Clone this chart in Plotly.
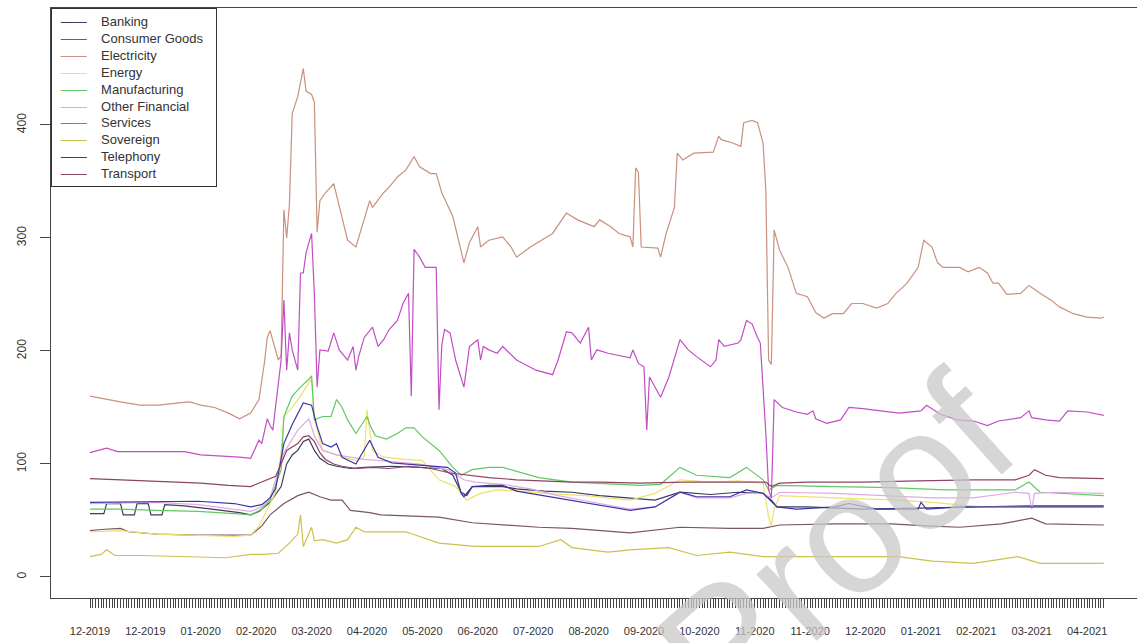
import plotly.graph_objects as go

# ---------------- data ----------------
n_days = 367
label_step = 20
day_labels = ["12-2019", "12-2019", "01-2020", "02-2020", "03-2020", "04-2020",
              "05-2020", "06-2020", "07-2020", "08-2020", "09-2020", "10-2020",
              "11-2020", "11-2020", "12-2020", "01-2021", "02-2021", "03-2021",
              "04-2021"]
y_ticks = [0, 100, 200, 300, 400]

# (trading-day index, value) pairs
banking = [(1,56),(6,56),(7,65),(12,65),(13,55),(17,55),(18,65),(22,65),(23,55),(27,55),(28,64),
           (35,63),(45,60),(55,57),(59,55),(62,58),(66,66),(70,80),(72,100),(74,108),(76,112),
           (78,120),(80,122),(82,112),(84,105),(87,100),(90,98),(95,96),(100,97),(110,98),
           (120,97),(128,96),(132,90),(135,75),(137,72),(139,80),(145,80),(150,80),(155,78),
           (165,76),(175,75),(185,72),(195,70),(205,68),(214,75),(225,73),(235,75),(244,74),
           (247,68),(249,62),(260,62),(280,60),(300,61),(320,62),(340,63),(367,63)]
consumer_goods = [(1,41),(5,42),(12,43),(15,40),(25,38),(40,37),(53,37),(59,37),(63,45),(66,55),
                  (71,65),(76,72),(80,75),(84,71),(88,68),(92,68),(95,59),(102,57),(106,55),
                  (115,54),(127,53),(139,48),(150,46),(163,44),(175,43),(190,40),(196,39),
                  (214,44),(232,43),(244,43),(250,46),(270,47),(290,47),(305,45),(315,44),
                  (330,47),(341,52),(346,47),(367,46)]
electricity = [(1,160),(5,158),(12,155),(19,152),(26,152),(33,154),(37,155),(41,152),(46,150),
               (51,145),(55,140),(59,145),(62,157),(64,190),(65,212),(66,218),(68,200),(69,192),
               (70,196),(71,325),(72,300),(73,330),(74,410),(76,425),(78,450),(79,430),(81,427),
               (82,420),(83,305),(84,333),(86,340),(89,348),(92,318),(94,298),(97,292),(100,316),
               (102,333),(103,327),(107,340),(109,345),(112,354),(115,360),(118,372),(120,363),
               (124,357),(126,357),(128,340),(132,319),(136,278),(138,296),(141,310),(142,292),
               (145,298),(150,301),(153,292),(155,283),(160,292),(168,304),(173,322),(177,316),
               (180,313),(183,310),(185,316),(189,310),(192,304),(196,301),(197,292),(198,362),
               (199,358),(200,292),(206,291),(207,283),(209,304),(212,327),(213,375),(215,369),
               (219,375),(226,376),(228,390),(229,387),(233,384),(236,381),(237,402),(240,404),
               (242,402),(244,384),(245,342),(246,192),(247,188),(248,307),(250,289),(253,274),
               (256,251),(260,248),(263,234),(266,229),(269,233),(273,233),(276,242),(280,242),
               (285,238),(289,242),(292,251),(296,260),(300,274),(302,298),(305,292),(307,278),
               (309,274),(315,274),(318,270),(322,274),(325,269),(327,260),(329,260),(332,250),
               (337,251),(340,258),(344,251),(348,245),(351,239),(356,233),(361,230),(366,229),
               (367,230)]
energy = [(1,40),(12,41),(25,38),(40,37),(53,36),(59,37),(62,45),(65,60),(68,75),(70,110),
          (71,142),(74,150),(77,160),(80,172),(81,175),(82,140),(85,112),(90,108),(97,103),
          (100,106),(101,148),(103,112),(107,106),(115,104),(121,103),(127,86),(133,80),
          (137,68),(142,74),(148,77),(157,76),(165,74),(180,72),(196,68),(205,74),(214,86),
          (225,84),(235,85),(244,83),(246,53),(247,45),(248,60),(250,72),(270,70),(293,68),
          (305,66),(323,62),(367,62)]
manufacturing = [(1,60),(12,60),(25,59),(40,58),(53,56),(59,55),(63,60),(66,68),(70,95),(71,142),
                 (74,160),(77,168),(80,175),(81,178),(82,139),(85,142),(88,142),(90,157),(92,150),
                 (94,139),(97,127),(101,142),(102,135),(104,125),(108,122),(112,127),(115,132),
                 (118,132),(121,124),(127,112),(132,97),(135,90),(139,95),(145,97),(150,97),
                 (156,93),(163,88),(175,84),(190,82),(200,81),(207,82),(214,97),(220,90),(232,88),
                 (238,97),(244,86),(246,77),(249,81),(270,80),(290,79),(310,77),(335,77),(340,84),
                 (344,75),(367,72)]
other_financial = [(1,65),(25,66),(40,64),(53,60),(59,58),(63,62),(66,70),(71,110),(76,130),(80,140),
                   (82,125),(85,112),(90,108),(100,104),(110,102),(120,100),(130,95),(136,86),
                   (140,84),(150,82),(160,78),(170,72),(185,65),(196,60),(205,62),(214,75),(220,70),
                   (232,70),(238,74),(244,74),(247,70),(250,75),(270,74),(290,72),(305,70),(320,70),
                   (335,75),(340,74),(341,60),(342,74),(350,75),(367,74)]
services = [(1,110),(7,114),(11,111),(26,111),(35,111),(41,108),(51,107),(55,106),(59,105),(62,121),
            (63,118),(65,140),(66,134),(67,130),(70,192),(71,245),(72,183),(73,216),(74,201),(76,183),
            (77,269),(78,269),(79,287),(81,304),(82,251),(83,168),(84,201),(87,200),(89,216),(91,201),
            (94,192),(96,204),(97,183),(98,195),(100,212),(103,221),(105,204),(107,210),(109,219),
            (112,227),(114,242),(116,251),(117,160),(118,290),(120,283),(122,274),(126,274),(127,148),
            (128,205),(129,219),(131,216),(133,192),(136,168),(138,204),(141,210),(142,192),(143,204),
            (145,201),(148,198),(150,204),(155,192),(160,186),(162,183),(168,179),(170,192),(173,217),
            (175,216),(178,207),(181,221),(182,192),(184,201),(188,198),(196,194),(197,201),(199,189),
            (201,186),(202,130),(203,177),(207,159),(210,177),(214,210),(217,201),(220,195),(225,186),
            (227,192),(228,210),(230,204),(235,207),(236,210),(238,227),(240,224),(242,212),(243,207),
            (245,127),(246,77),(247,70),(248,157),(251,150),(256,146),(260,144),(262,147),(263,140),
            (267,136),(272,139),(275,150),(280,149),(286,147),(293,145),(301,147),(303,152),(308,144),
            (314,139),(320,138),(325,134),(329,138),(337,141),(340,147),(341,141),(346,139),(351,138),
            (354,147),(361,146),(367,143)]
sovereign = [(1,18),(5,20),(7,24),(10,19),(20,19),(35,18),(50,17),(59,20),(64,20),(69,21),(73,30),
             (76,38),(77,55),(78,27),(81,44),(82,32),(85,33),(90,30),(94,33),(97,44),(100,40),
             (110,40),(115,40),(127,30),(140,27),(155,27),(163,27),(171,33),(175,26),(188,22),
             (196,24),(210,26),(220,19),(232,22),(244,18),(270,18),(293,18),(305,14),(320,12),
             (336,18),(344,12),(367,12)]
telephony = [(1,66),(25,67),(40,67),(53,65),(59,62),(63,64),(66,70),(68,78),(71,118),(74,135),
             (78,154),(81,152),(83,133),(85,118),(88,115),(90,118),(92,106),(97,100),(102,121),
             (105,106),(110,101),(120,99),(130,97),(133,92),(135,74),(136,71),(139,80),(145,81),
             (150,81),(155,76),(165,72),(175,68),(185,64),(196,59),(205,62),(214,75),(220,71),
             (232,71),(238,77),(244,74),(249,62),(256,60),(270,62),(275,65),(285,60),(300,60),
             (301,66),(303,60),(315,62),(330,62),(367,62)]
transport = [(1,87),(12,86),(23,85),(41,83),(51,81),(59,80),(63,84),(68,89),(70,100),(72,112),
             (74,115),(76,118),(78,124),(80,125),(82,120),(84,110),(86,104),(89,100),(92,98),
             (97,96),(103,97),(109,96),(116,98),(124,96),(131,92),(138,90),(145,88),(155,86),
             (163,85),(175,84),(185,84),(200,83),(215,84),(230,84),(245,84),(247,80),(250,83),
             (260,84),(280,84),(300,85),(320,86),(335,86),(340,90),(342,95),(346,90),(351,88),
             (367,87)]

series = [
    ("Banking", banking, "#3b3b5f"),
    ("Consumer Goods", consumer_goods, "#7a5468"),
    ("Electricity", electricity, "#c9917e"),
    ("Energy", energy, "#ece26e"),
    ("Manufacturing", manufacturing, "#62c862"),
    ("Other Financial", other_financial, "#e2a8e6"),
    ("Services", services, "#c24ec4"),
    ("Sovereign", sovereign, "#cdc14c"),
    ("Telephony", telephony, "#3c34a6"),
    ("Transport", transport, "#8e4464"),
]

# ---------------- figure ----------------
fig = go.Figure()
for name, pts, color in series:
    xs = [p[0] for p in pts]
    ys = [p[1] for p in pts]
    fig.add_trace(go.Scatter(x=xs, y=ys, mode="lines", name=name,
                             line=dict(color=color, width=1.2)))

tickvals = list(range(1, n_days + 1))
ticktext = [day_labels[(i - 1) // label_step] if (i - 1) % label_step == 0 else ""
            for i in tickvals]

fig.update_layout(
    width=1137, height=643,
    margin=dict(l=51, r=0, t=8, b=45),
    plot_bgcolor="white", paper_bgcolor="white",
    font=dict(family="Liberation Sans, Arial, sans-serif", color="#333333"),
    showlegend=False,
    xaxis=dict(range=[-13.08, 379.0], tickmode="array", tickvals=tickvals,
               ticktext=ticktext, ticks="outside", ticklen=9, tickwidth=1,
               tickcolor="#444444", showline=True, linecolor="#444444",
               linewidth=1, mirror=True, showgrid=False, zeroline=False,
               tickangle=0, ticklabelstandoff=14,
               tickfont=dict(size=11, color="#333333")),
    yaxis=dict(range=[-18.6, 503.5], tickmode="array", tickvals=y_ticks,
               ticks="outside", ticklen=10, tickwidth=1, tickcolor="#444444",
               showline=True, linecolor="#444444", linewidth=1, mirror=False,
               showgrid=False, zeroline=False, tickangle=-90,
               ticklabelstandoff=9,
               tickfont=dict(size=12, color="#333333")),
)

# R-style legend box (line key + name per series), as text
nb = "\u00a0"
legend_rows = [f"{nb}<span style='color:{color}'>\u2014\u2014</span>{nb*4}{name}"
               for name, _, color in series]
fig.add_annotation(text="<br>".join(legend_rows), xref="paper", yref="paper",
                   x=0, y=1, xanchor="left", yanchor="top", showarrow=False,
                   align="left", width=154, borderpad=5,
                   bordercolor="#333333", borderwidth=1, bgcolor="white",
                   font=dict(size=13, color="#333333",
                             family="Liberation Sans, Arial, sans-serif"))

# watermark
fig.add_annotation(text="Proof", xref="paper", yref="paper", x=0.722, y=0.09,
                   xanchor="center", yanchor="middle", showarrow=False,
                   textangle=-42,
                   font=dict(size=170, color="rgba(200,200,200,0.75)",
                             family="Liberation Sans, Arial, sans-serif"))

fig.write_html("out.html", config={"displayModeBar": False},
               post_script="document.body.style.margin='0';")
